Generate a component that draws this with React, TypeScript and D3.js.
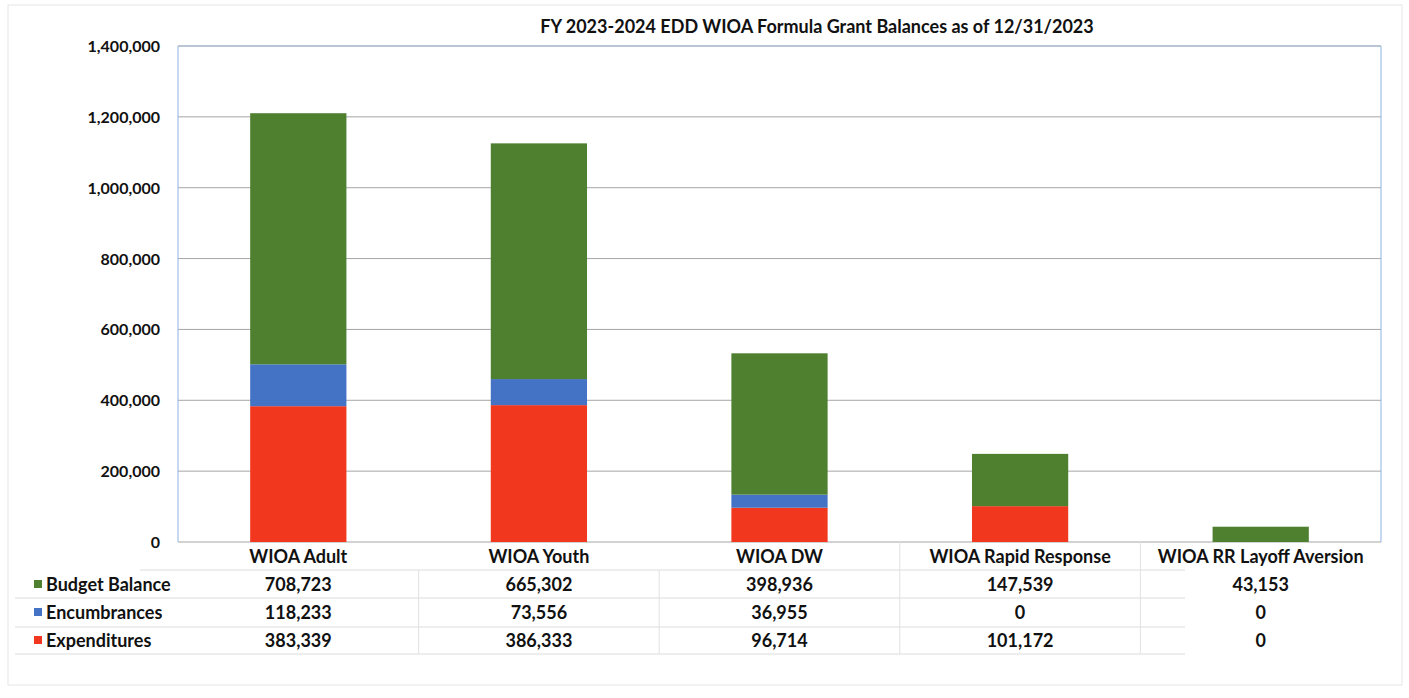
import React from "react";
import * as d3 from "d3";

const categories = ["WIOA Adult", "WIOA Youth", "WIOA DW", "WIOA Rapid Response", "WIOA RR Layoff Aversion"];
const expenditures = [383339, 386333, 96714, 101172, 0];
const encumbrances = [118233, 73556, 36955, 0, 0];
const budgetBalance = [708723, 665302, 398936, 147539, 43153];
const yTicks = [0, 200000, 400000, 600000, 800000, 1000000, 1200000, 1400000];

const seriesOrder = [
  { key: "exp", name: "Expenditures", values: expenditures, color: "#F2371F" },
  { key: "enc", name: "Encumbrances", values: encumbrances, color: "#4472C4" },
  { key: "bal", name: "Budget Balance", values: budgetBalance, color: "#4E8030" },
];
// table rows are listed top-down: balance, encumbrances, expenditures
const tableRows = [seriesOrder[2], seriesOrder[1], seriesOrder[0]];

const W = 1409;
const H = 698;
const plot = { left: 178, right: 1381, top: 46, bottom: 542 };
const font = "Lato, 'Open Sans', sans-serif";

export default function App() {
  const x = d3.scaleBand<string>().domain(categories).range([plot.left, plot.right]).paddingInner(0.6).paddingOuter(0.3);
  const band = d3.scaleBand<string>().domain(categories).range([plot.left, plot.right]);
  const y = d3.scaleLinear().domain([0, 1400000]).range([plot.bottom, plot.top]);
  const fmt = d3.format(",");

  const stackData = categories.map((c, i) => ({
    cat: c,
    exp: expenditures[i],
    enc: encumbrances[i],
    bal: budgetBalance[i],
  }));
  const stacked = d3.stack<any>().keys(["exp", "enc", "bal"])(stackData);

  const headerY = 563;
  const rowYs = [584, 612, 640];
  const lineYs = [570, 598, 627, 654];

  return (
    <svg width={W} height={H} style={{ position: "absolute", left: 0, top: 0, background: "#fff" }}>
      <rect x={8} y={5} width={1394} height={680} fill="#fff" stroke="#e6e6e6" />
      <text x={817} y={33} textAnchor="middle" fontFamily={font} fontWeight={700} fontSize={18} fill="#111">
        FY 2023-2024 EDD WIOA Formula Grant Balances as of 12/31/2023
      </text>

      {/* gridlines */}
      {yTicks.map((t) => (
        <line key={t} x1={plot.left} x2={plot.right} y1={y(t)} y2={y(t)} stroke="#a6a6a6" strokeWidth={1} />
      ))}
      <line x1={plot.left} x2={plot.left} y1={plot.top} y2={plot.bottom} stroke="#8fb3e0" />
      <line x1={plot.right} x2={plot.right} y1={plot.top} y2={plot.bottom} stroke="#8fb3e0" />
      <line x1={plot.left} x2={plot.right} y1={plot.top} y2={plot.top} stroke="#9fb8d8" />

      {yTicks.map((t) => (
        <text key={t} x={160} y={y(t) + 6} textAnchor="end" fontFamily={font} fontWeight={700} fontSize={16} fill="#111">
          {fmt(t)}
        </text>
      ))}

      {/* stacked bars */}
      {stacked.map((layer, li) => (
        <g key={layer.key} fill={seriesOrder[li].color}>
          {layer.map((d, i) => (
            <rect
              key={i}
              x={x(categories[i])}
              width={x.bandwidth()}
              y={y(d[1])}
              height={Math.max(0, y(d[0]) - y(d[1]))}
            />
          ))}
        </g>
      ))}

      {/* data table */}
      {lineYs.map((ly, i) => (
        <line key={ly} x1={i === 0 ? 140 : 15} x2={1185} y1={ly} y2={ly} stroke="#dcdcdc" />
      ))}
      {categories.slice(1).map((c, i) => (
        <line
          key={c}
          x1={band(c)!}
          x2={band(c)!}
          y1={i >= 2 ? 542 : 570}
          y2={654}
          stroke="#e2e2e2"
        />
      ))}
      {categories.map((c) => (
        <text
          key={c}
          x={band(c)! + band.bandwidth() / 2}
          y={headerY}
          textAnchor="middle"
          fontFamily={font}
          fontWeight={700}
          fontSize={18}
          fill="#111"
        >
          {c}
        </text>
      ))}
      {tableRows.map((s, ri) => (
        <g key={s.key}>
          <rect x={34} y={rowYs[ri] - 4} width={8} height={8} fill={s.color} />
          <text x={46} y={rowYs[ri] + 6.5} fontFamily={font} fontWeight={700} fontSize={18} fill="#111">
            {s.name}
          </text>
          {s.values.map((v, ci) => (
            <text
              key={ci}
              x={band(categories[ci])! + band.bandwidth() / 2}
              y={rowYs[ri] + 6.5}
              textAnchor="middle"
              fontFamily={font}
              fontWeight={700}
              fontSize={18}
              fill="#111"
            >
              {fmt(v)}
            </text>
          ))}
        </g>
      ))}
    </svg>
  );
}
